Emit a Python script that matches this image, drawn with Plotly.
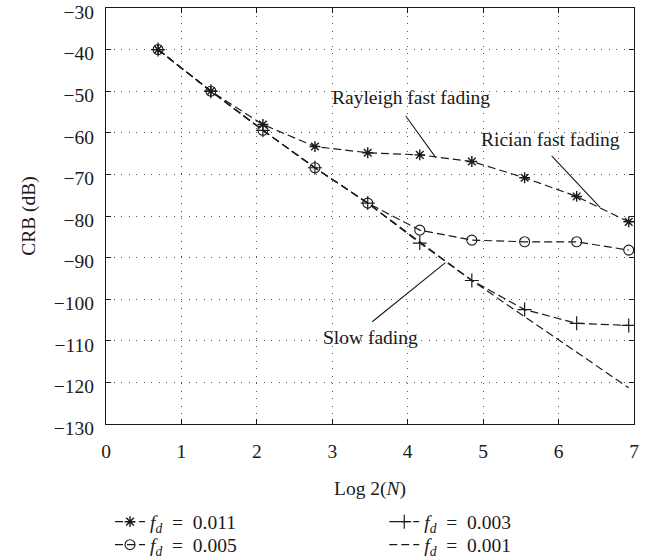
import plotly.graph_objects as go

# x positions: ln(N) for N = 2, 4, ..., 1024 (axis labelled Log2(N))
x_vals = [0.69, 1.39, 2.08, 2.77, 3.47, 4.16, 4.85, 5.55, 6.24, 6.93]

crb_fd_0011 = [-40, -50, -58, -63.3, -64.8, -65.3, -66.9, -70.8, -75.3, -81.4]
crb_fd_0005 = [-40, -50, -59.4, -68.4, -76.9, -83.4, -85.8, -86.2, -86.2, -88.2]
crb_fd_0003 = [-40, -50, -59.4, -68.4, -76.9, -86.5, -95.5, -102.5, -105.8, -106.3]
crb_fd_0001 = [-40, -50, -59.4, -68.4, -76.9, -86.3, -95.5, -104.2, -112.8, -121.3]

series_names = ["<i>f<sub>d</sub></i>\u2002=\u20020.011", "<i>f<sub>d</sub></i>\u2002=\u20020.005",
                "<i>f<sub>d</sub></i>\u2002=\u20020.003", "<i>f<sub>d</sub></i>\u2002=\u20020.001"]

x_ticks = [0, 1, 2, 3, 4, 5, 6, 7]
y_ticks = [-130, -120, -110, -100, -90, -80, -70, -60, -50, -40, -30]

FONT = "Liberation Serif"
FS = 19.5
INK = "#1a1a1a"
DASH = "8px,4px"

fig = go.Figure()

# fd = 0.001 (plain dashed)
fig.add_trace(go.Scatter(x=x_vals, y=crb_fd_0001, mode="lines", name=series_names[3],
                         line=dict(color=INK, width=1.2, dash=DASH), legend="legend4"))
# fd = 0.003 (+)
fig.add_trace(go.Scatter(x=x_vals, y=crb_fd_0003, mode="lines+markers", name=series_names[2],
                         line=dict(color=INK, width=1.2, dash=DASH),
                         marker=dict(symbol="cross-thin-open", size=10, color=INK,
                                     line=dict(color=INK, width=1.2)), legend="legend2"))
# fd = 0.005 (o)
fig.add_trace(go.Scatter(x=x_vals, y=crb_fd_0005, mode="lines+markers", name=series_names[1],
                         line=dict(color=INK, width=1.2, dash=DASH),
                         marker=dict(symbol="circle-open", size=10, color=INK,
                                     line=dict(color=INK, width=1.1)), legend="legend3"))
# fd = 0.011 (*)
fig.add_trace(go.Scatter(x=x_vals, y=crb_fd_0011, mode="lines+markers", name=series_names[0],
                         line=dict(color=INK, width=1.2, dash=DASH),
                         marker=dict(symbol="asterisk-open", size=9, color=INK,
                                     line=dict(color=INK, width=1.4)), legend="legend"))

# annotation labels with leader lines (text pos, line start, line end in data units)
labels = [
    ("Rayleigh fast fading", 4.04, -51.5),
    ("Rician fast fading", 5.89, -61.5),
    ("Slow fading", 3.50, -109.3),
]
leaders = [
    (3.96, -55.6, 4.37, -65.9),
    (5.89, -65.2, 6.55, -77.9),
    (3.51, -105.7, 4.50, -91.2),
]
for (t, tx, ty) in labels:
    fig.add_annotation(x=tx, y=ty, text=t, showarrow=False, xref="x", yref="y",
                       font=dict(family=FONT, size=FS, color=INK))
for (x0, y0, x1, y1) in leaders:
    fig.add_annotation(x=x1, y=y1, ax=x0, ay=y0, xref="x", yref="y", axref="x", ayref="y",
                       text="", showarrow=True, arrowhead=0, arrowwidth=1.1, arrowcolor=INK)

axis_common = dict(
    showline=True, linecolor=INK, linewidth=1.2, mirror="ticks",
    ticks="inside", ticklen=5, tickcolor=INK,
    showgrid=True, gridcolor="#555555", griddash="1px,6.5px", gridwidth=1,
    zeroline=False, tickfont=dict(family=FONT, size=FS, color=INK),
    ticklabeloverflow="allow",
)

fig.update_xaxes(range=[0, 7], tickvals=x_ticks, ticklabelstandoff=9,
                 title=dict(text="Log 2(<i>N</i>)", font=dict(family=FONT, size=FS, color=INK), standoff=20),
                 **axis_common)
fig.update_yaxes(range=[-130, -30], tickvals=y_ticks, ticklabelstandoff=7, ticklabelshift=4,
                 ticktext=[("\u2212" + str(abs(v))) for v in y_ticks],
                 title=dict(text="CRB (dB)", font=dict(family=FONT, size=FS, color=INK), standoff=12),
                 **axis_common)

legend_common = dict(orientation="h", xanchor="left", yanchor="middle",
                     font=dict(family=FONT, size=FS, color=INK), bgcolor="rgba(0,0,0,0)")

col1_x, col2_x = 0.0076, 0.527
row1_y, row2_y = -0.2356, -0.2909

fig.update_layout(
    width=659, height=560,
    margin=dict(l=106, r=25, t=8, b=136, autoexpand=False),
    paper_bgcolor="white", plot_bgcolor="white",
    font=dict(family=FONT, size=FS, color=INK),
    showlegend=True,
    legend=dict(x=col1_x, y=row1_y, **legend_common),
    legend2=dict(x=col2_x, y=row1_y, **legend_common),
    legend3=dict(x=col1_x, y=row2_y, **legend_common),
    legend4=dict(x=col2_x, y=row2_y, **legend_common),
)

fig.write_html("out.html")
